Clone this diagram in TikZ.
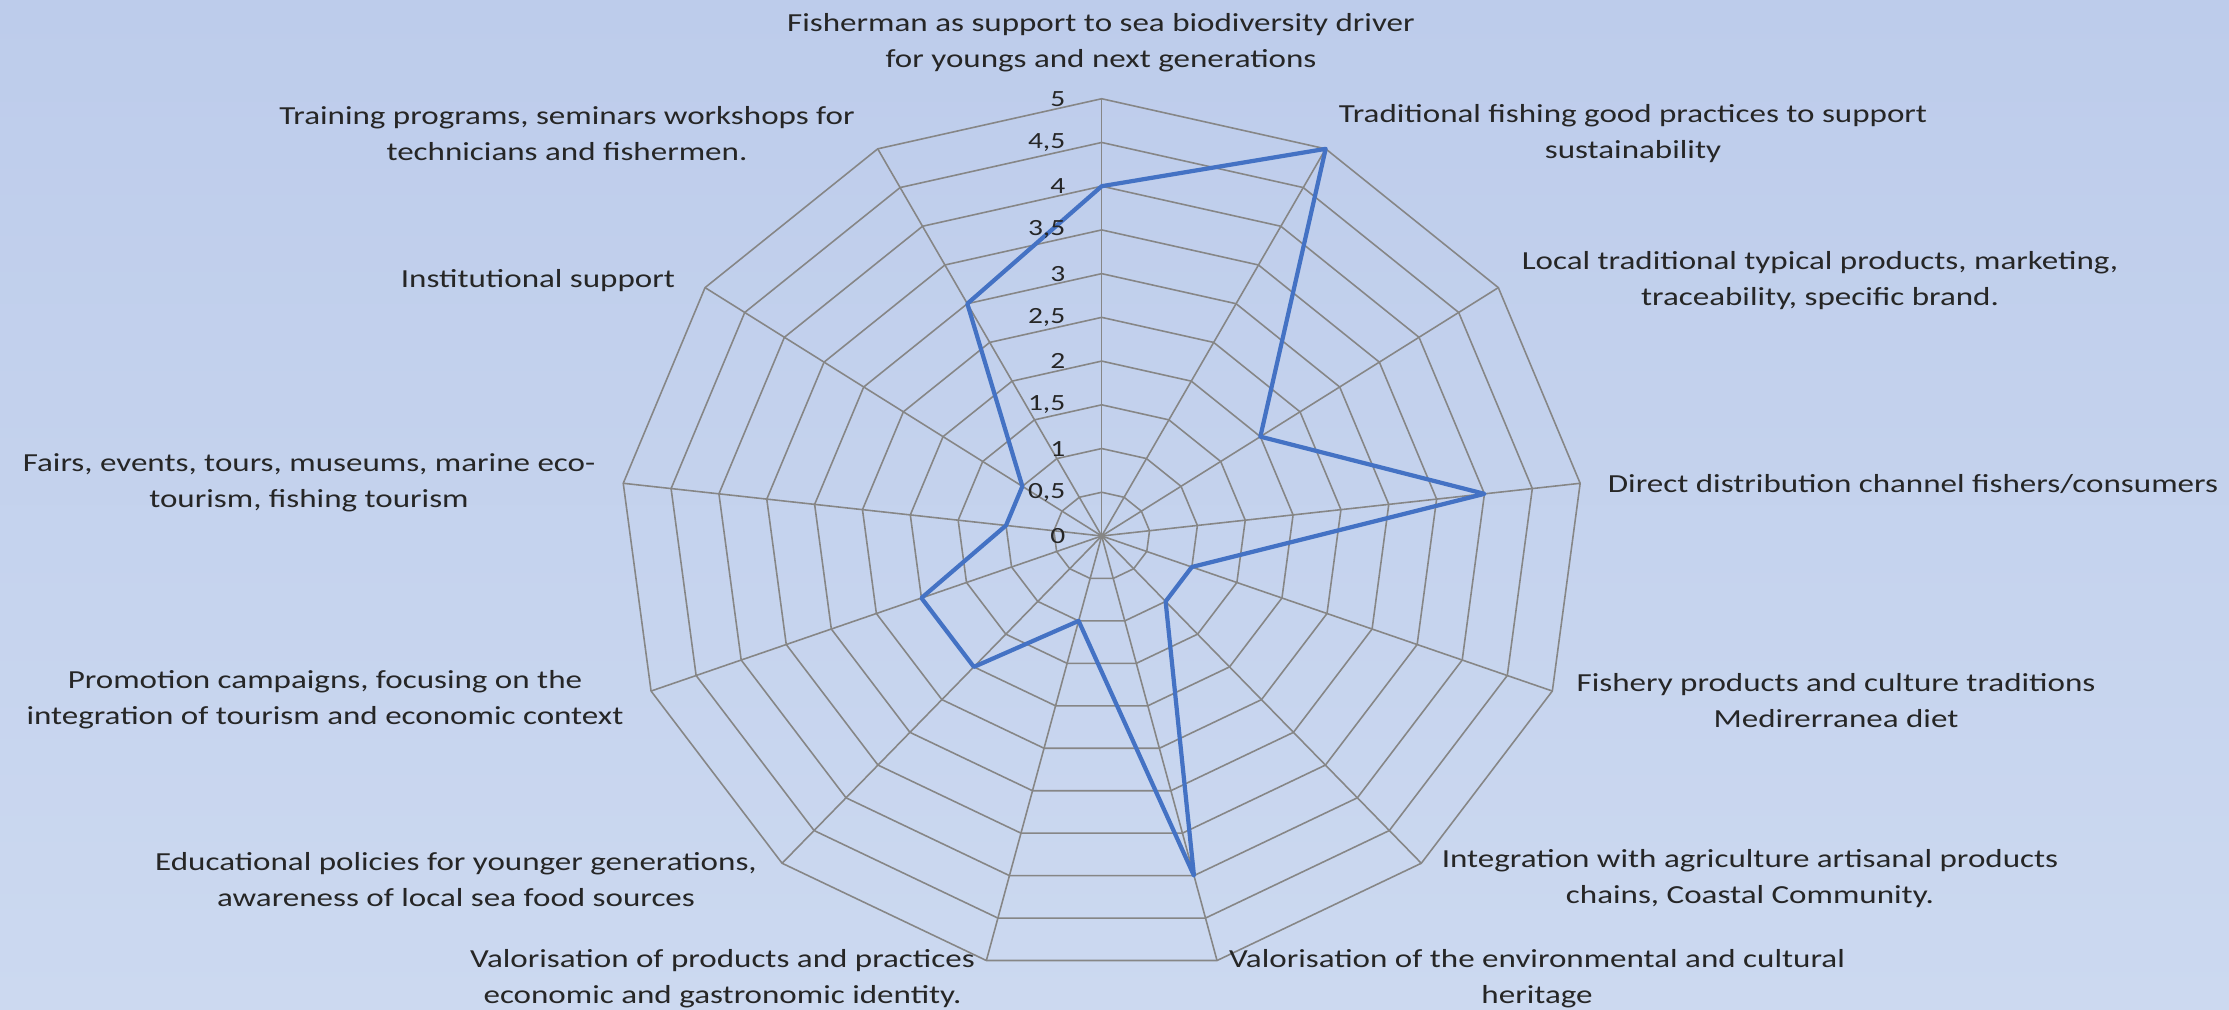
\documentclass[tikz,border=0pt]{standalone}
\usepackage{fontspec}
\setmainfont{Carlito}[FakeStretch=1.27]
\usepackage{tikz}
\usetikzlibrary{calc,positioning}
\definecolor{chartbg}{RGB}{189,204,235}
\definecolor{chartbgb}{RGB}{204,217,240}
\definecolor{gridgray}{RGB}{134,134,134}
\definecolor{seriesblue}{RGB}{68,114,196}
\definecolor{labeltext}{RGB}{38,38,38}

\begin{document}
\begin{tikzpicture}[x=0.01cm,y=-0.01cm,
	axislabel/.style={align=center,inner sep=0pt,text=labeltext,font=\fontsize{7.4}{10.24}\selectfont},
	ticklabel/.style={anchor=east,inner sep=0pt,text=labeltext,font=\fontsize{6.6}{8}\selectfont},
	gridline/.style={draw=gridgray,line width=0.45pt},
	seriesline/.style={draw=seriesblue,line width=1.2pt,line join=round}]
		\shade[top color=chartbg,bottom color=chartbgb] (0,0) rectangle (2229,1010);
		\useasboundingbox (0,0) rectangle (2229,1010);
		\begin{scope}[shift={(1101.7,536)},x=0.9634cm,y=0.874cm]
			\foreach \r in {0.5,1,...,5}
				\draw[gridline] (90:\r) \foreach \k in {1,...,12}{ -- ({90-\k*360/13}:\r)} -- cycle;
			\foreach \k in {0,...,12}
				\draw[gridline] (0,0) -- ({90-\k*360/13}:5);
			\draw[seriesline] (90:4) \foreach \v [count=\k] in {5,2,4,1,1,4,1,2,2,1,1,3}{ -- ({90-\k*360/13}:\v)} -- cycle;
			\foreach \v/\t [count=\i] in {0/0,0.5/{0,5},1/1,1.5/{1,5},2/2,2.5/{2,5},3/3,3.5/{3,5},4/4,4.5/{4,5},5/5}
				\node[ticklabel,xshift=-0.357cm] (tick\i) at (0,\v) {\t};
		\end{scope}
		\node[axislabel] (fisherman) at (1101,42.7) {Fisherman as support to sea biodiversity driver\\for youngs and next generations};
		\node[axislabel] (traditional) at (1633,134) {Traditional fishing good practices to support\\sustainability};
		\node[axislabel] (localprod) at (1820,280.5) {Local traditional typical products, marketing,\\traceability, specific brand.};
		\node[axislabel] (direct) at (1913,484) {Direct distribution channel fishers/consumers};
		\node[axislabel] (fishery) at (1836,700.5) {Fishery products and culture traditions\\Medirerranea diet};
		\node[axislabel] (integration) at (1750,878.9) {Integration with agriculture artisanal products\\chains, Coastal Community.};
		\node[axislabel] (heritage) at (1537,978.9) {Valorisation of the environmental and cultural\\heritage};
		\node[axislabel] (identity) at (722.5,978.9) {Valorisation of products and practices\\economic and gastronomic identity.};
		\node[axislabel] (education) at (456,879.5) {Educational policies for younger generations,\\awareness of local sea food sources};
		\node[axislabel] (promotion) at (325,699.5) {Promotion campaigns, focusing on the\\integration of tourism and economic context};
		\node[axislabel] (fairs) at (309,482.4) {Fairs, events, tours, museums, marine eco-\\tourism, fishing tourism};
		\node[axislabel] (institution) at (538,280.7) {Institutional support};
		\node[axislabel] (training) at (567,133.2) {Training programs, seminars workshops for\\technicians and fishermen.};
\end{tikzpicture}
\end{document}
